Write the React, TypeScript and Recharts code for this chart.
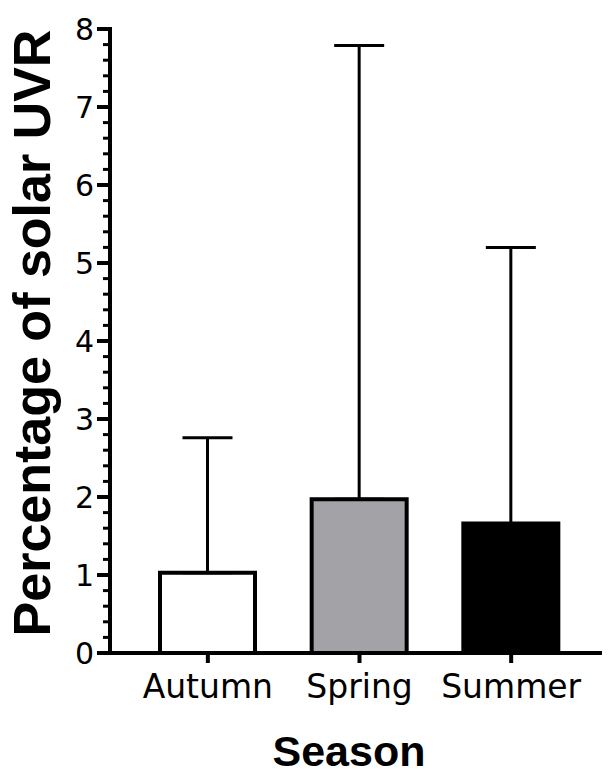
import React from 'react';
import { BarChart, Bar, XAxis, YAxis, ErrorBar, Cell, Label } from 'recharts';

// values (mean + upper SD)
const seasons = ['Autumn', 'Spring', 'Summer'];
const meanPct = [1.03, 1.97, 1.66];
const sdPct = [1.73, 5.82, 3.54];
const barFills = ['#ffffff', '#a3a2a7', '#000000'];

// major ticks every 1, minor every 0.2
const yTicks = [
  0, 0.2, 0.4, 0.6, 0.8, 1, 1.2, 1.4, 1.6, 1.8,
  2, 2.2, 2.4, 2.6, 2.8, 3, 3.2, 3.4, 3.6, 3.8,
  4, 4.2, 4.4, 4.6, 4.8, 5, 5.2, 5.4, 5.6, 5.8,
  6, 6.2, 6.4, 6.6, 6.8, 7, 7.2, 7.4, 7.6, 7.8, 8,
];

const data = seasons.map((s, i) => ({
  season: s,
  mean: meanPct[i],
  err: [0, sdPct[i]],
}));

const YTick = (props: any) => {
  const { x, y, payload } = props;
  const v = payload.value;
  const major = Math.abs(v - Math.round(v)) < 1e-6;
  return (
    <g>
      <line
        x1={x - (major ? 13 : 7)}
        x2={x}
        y1={y}
        y2={y}
        stroke="#000"
        strokeWidth={major ? 4 : 3}
      />
      {major && (
        <text x={x - 16} y={y + 11} textAnchor="end" fontSize={30} fontFamily="DejaVu Sans" fill="#000">
          {Math.round(v)}
        </text>
      )}
    </g>
  );
};

const XTick = (props: any) => {
  const { x, y, payload } = props;
  return (
    <text x={x} y={y + 35} textAnchor="middle" fontSize={33} fontFamily="DejaVu Sans" fill="#000">
      {payload.value}
    </text>
  );
};

const App: React.FC = () => {
  return (
    <div style={{ margin: -8, width: 610, height: 776, background: '#fff', overflow: 'hidden' }}>
      <BarChart width={630} height={776} data={data} margin={{ top: 29, right: 0, bottom: 0, left: 0 }}>
        <XAxis
          dataKey="season"
          height={123}
          padding={{ left: 22, right: 43 }}
          axisLine={{ stroke: '#000', strokeWidth: 4 }}
          tickLine={{ stroke: '#000', strokeWidth: 4 }}
          tickSize={10}
          tickMargin={0}
          tick={<XTick />}
        >
          <Label
            content={() => (
              <text x={349} y={766} textAnchor="middle" fontSize={43} fontWeight="bold" fontFamily="Liberation Sans" fill="#000">
                Season
              </text>
            )}
          />
        </XAxis>
        <YAxis
          width={110}
          domain={[0, 8]}
          ticks={yTicks}
          interval={0}
          allowDataOverflow
          axisLine={{ stroke: '#000', strokeWidth: 4, strokeLinecap: 'square' }}
          tickLine={false}
          tickSize={0}
          tickMargin={0}
          tick={<YTick />}
        >
          <Label
            content={() => (
              <text
                x={50}
                y={333}
                transform="rotate(-90, 50, 333)"
                textAnchor="middle"
                fontSize={52}
                fontWeight="bold"
                fontFamily="Liberation Sans"
                fill="#000"
              >
                Percentage of solar UVR
              </text>
            )}
          />
        </YAxis>
        <Bar dataKey="mean" barSize={95} stroke="#000" strokeWidth={4} isAnimationActive={false}>
          {data.map((d, i) => (
            <Cell key={d.season} fill={barFills[i]} />
          ))}
          <ErrorBar dataKey="err" direction="y" width={25} stroke="#000" strokeWidth={3} isAnimationActive={false} />
        </Bar>
      </BarChart>
    </div>
  );
};

export default App;
